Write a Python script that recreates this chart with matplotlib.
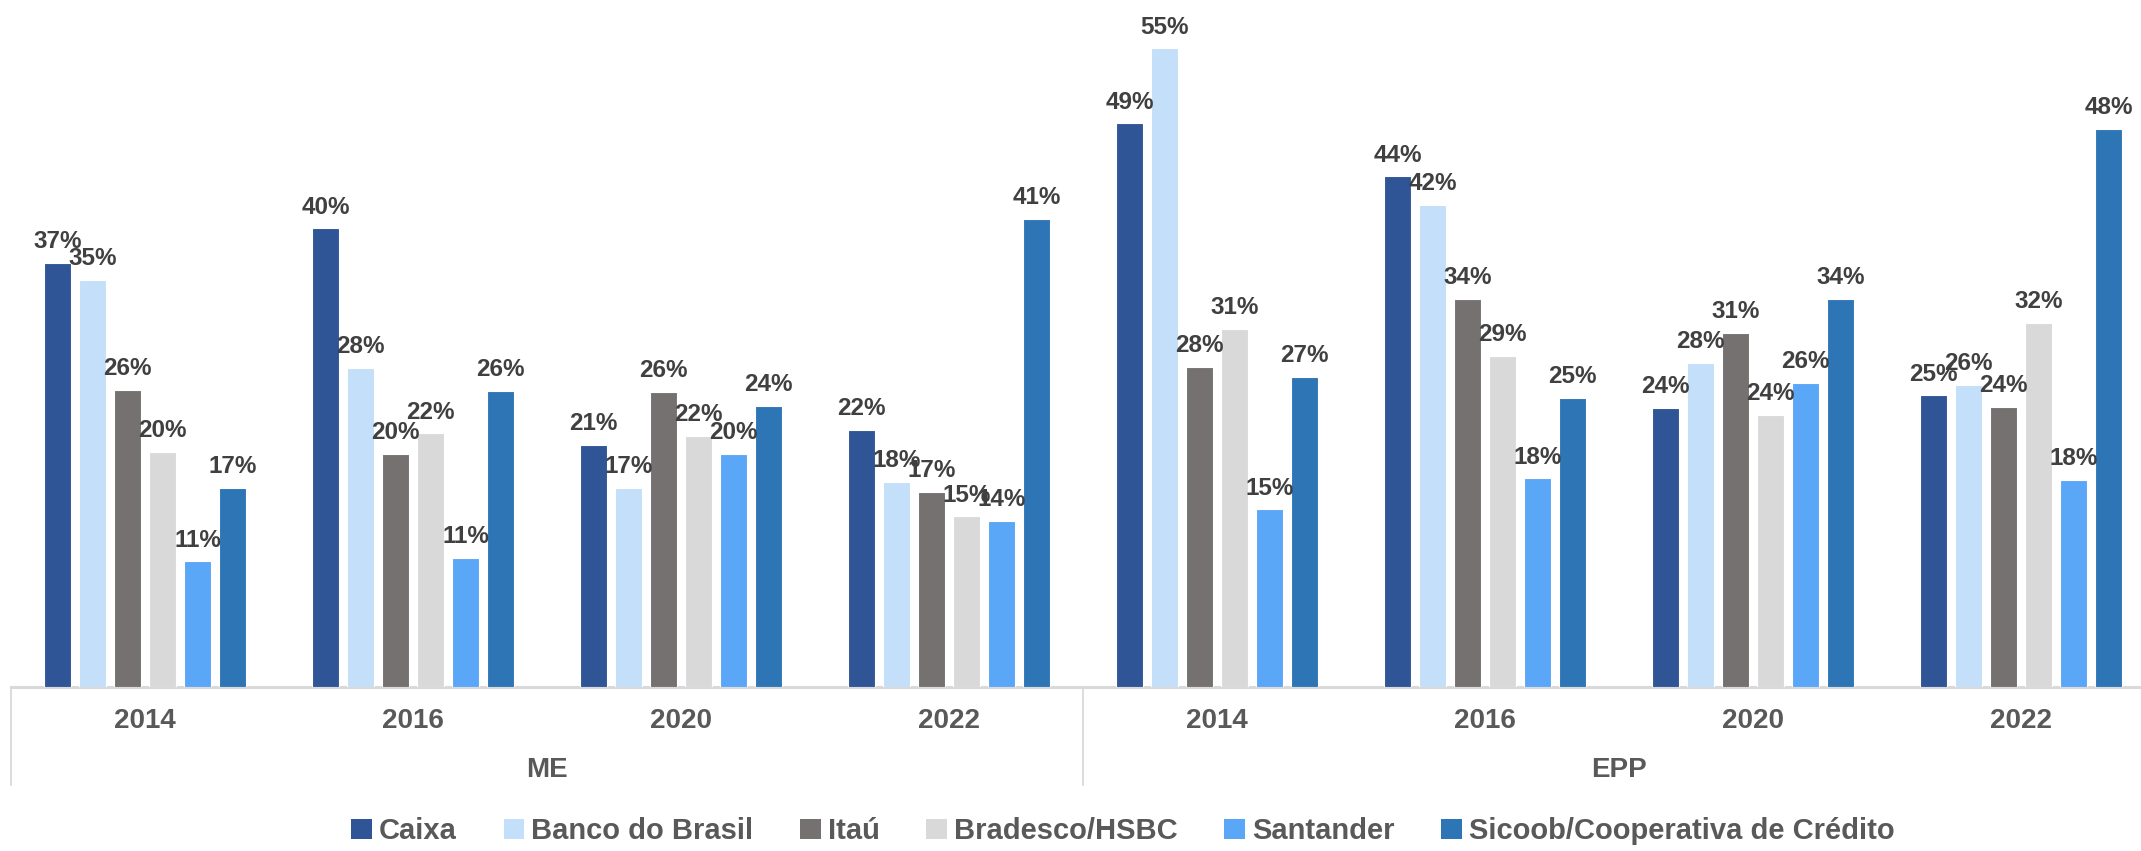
import matplotlib
matplotlib.use("Agg")
import matplotlib.pyplot as plt
import matplotlib.transforms as mtransforms
from matplotlib.patches import Patch
import numpy as np

plt.rcParams['font.family'] = ['Liberation Sans', 'DejaVu Sans']

years = ["2014", "2016", "2020", "2022", "2014", "2016", "2020", "2022"]
groups = ["ME", "EPP"]
series = ["Caixa", "Banco do Brasil", "Itaú", "Bradesco/HSBC", "Santander",
          "Sicoob/Cooperativa de Crédito"]
caixa = [36.8, 39.8, 21.0, 22.3, 48.9, 44.3, 24.2, 25.3]
banco_brasil = [35.3, 27.7, 17.3, 17.8, 55.4, 41.8, 28.1, 26.2]
itau = [25.8, 20.2, 25.6, 16.9, 27.8, 33.7, 30.7, 24.3]
bradesco = [20.4, 22.0, 21.8, 14.8, 31.1, 28.7, 23.6, 31.6]
santander = [10.9, 11.2, 20.2, 14.4, 15.4, 18.1, 26.4, 18.0]
sicoob = [17.3, 25.7, 24.4, 40.6, 26.9, 25.1, 33.7, 48.4]
values = [caixa, banco_brasil, itau, bradesco, santander, sicoob]
colors = ["#2F5597", "#C4DFFA", "#767171", "#D9D9D9", "#5AA7F8", "#2E75B6"]

W, H = 2141, 851
fig = plt.figure(figsize=(W / 100, H / 100), dpi=100)
left_px, cat_w = 11, 268
base_px = 687
ax = fig.add_axes([left_px / W, 1 - base_px / H, 8 * cat_w / W, base_px / H])
ax.set_xlim(-0.5, 7.5)
ax.set_ylim(0, 59.6)
ax.axis('off')

x = np.arange(len(years))
pitch = 35 / cat_w
bw = 27 / cat_w
label_color = "#404040"
for i, (name, vals, c) in enumerate(zip(series, values, colors)):
    xs = x + (i - 2.5) * pitch
    ax.bar(xs, vals, width=bw, color=c, edgecolor='white', linewidth=0.8,
           label=name, zorder=2)
    for xi, v in zip(xs, vals):
        ax.annotate(f"{v:.0f}%", (xi, v), xytext=(0, 7), textcoords='offset points',
                    ha='center', va='bottom', fontsize=17.5, fontweight='bold',
                    color=label_color, zorder=3)

# axis baseline
ax.plot([-0.5, 7.5], [0, 0], color="#D9D9D9", lw=2.2, clip_on=False, zorder=1)

# category separators and labels
tr = mtransforms.blended_transform_factory(ax.transData, fig.transFigure)
y_bottom = 1 - 785 / H
for xs in [-0.5, 3.5, 7.5]:
    ax.plot([xs, xs], [1 - base_px / H, y_bottom], color="#D9D9D9", lw=1.3,
            transform=tr, clip_on=False)
for xi, yr in zip(x, years):
    ax.text(xi, 1 - 721 / H, yr, transform=tr, ha='center', va='center',
            fontsize=20, fontweight='bold', color="#595959")
for gi, g in enumerate(groups):
    ax.text(1.5 + 4 * gi, 1 - 770 / H, g, transform=tr, ha='center', va='center',
            fontsize=20, fontweight='bold', color="#595959")

handles = [Patch(facecolor=c, edgecolor='none') for c in colors]
leg = fig.legend(handles, series, loc='center', bbox_to_anchor=(1123 / W, 1 - 831 / H),
                 ncol=6, frameon=False, fontsize=21, handlelength=0.7,
                 handleheight=0.7, handletextpad=0.25, columnspacing=1.6)
for t in leg.get_texts():
    t.set_fontweight('bold')
    t.set_color("#595959")

fig.savefig("out.png", dpi=100)
